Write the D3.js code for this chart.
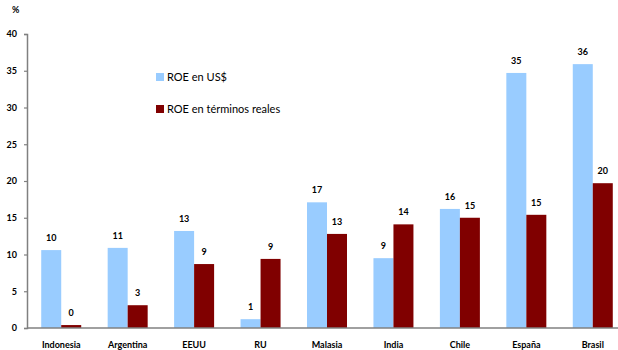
<!DOCTYPE html>
<html><head><meta charset="utf-8">
<script src="https://cdn.jsdelivr.net/npm/d3@7"></script>
<style>body{margin:0;background:#fff}svg{display:block}</style>
</head><body>
<svg id="c" width="618" height="350"></svg>
<script>
const categories = ["Indonesia","Argentina","EEUU","RU","Malasia","India","Chile","España","Brasil"];
const roeUSD = [10.6, 10.9, 13.2, 1.2, 17.1, 9.5, 16.2, 34.7, 35.9];
const roeReal = [0.4, 3.1, 8.7, 9.4, 12.8, 14.1, 15.0, 15.4, 19.7];
const labelsUSD = ["10","11","13","1","17","9","16","35","36"];
const labelsReal = ["0","3","9","9","13","14","15","15","20"];
const yTicks = [0,5,10,15,20,25,30,35,40];
const seriesNames = ["ROE en US$","ROE en términos reales"];
const colors = ["#99ccff","#800000"];

const svg = d3.select("#c");
const font = "Lato, 'DejaVu Sans', sans-serif";
const W = 618;
const x = d3.scaleBand().domain(categories).range([28, 626]).padding(0);
const y = d3.scaleLinear().domain([0,40]).range([328, 34]);
const barW = 20;

const yAxis = svg.append("g").attr("transform","translate(27,0)")
  .call(d3.axisLeft(y).tickValues(yTicks).tickSize(3).tickFormat(d3.format("d")));
yAxis.select(".domain").attr("stroke","#808080").attr("stroke-width",1.5);
yAxis.selectAll(".tick line").attr("stroke","#808080").attr("stroke-width",1.2);
yAxis.selectAll(".tick text").attr("font-family",font).attr("font-weight","bold")
  .attr("font-size",9).attr("fill","#000").attr("x",-10);

svg.append("text").attr("x",12).attr("y",13).text("%")
  .attr("font-family",font).attr("font-size",9).attr("font-weight","bold");

const series = [roeUSD, roeReal];
const labels = [labelsUSD, labelsReal];
series.forEach((vals, si) => {
  const g = svg.append("g");
  g.selectAll("rect").data(vals).join("rect")
    .attr("x",(d,i)=>x(categories[i]) + x.bandwidth()/2 - barW + si*barW)
    .attr("width",barW)
    .attr("y",d=>y(d))
    .attr("height",d=>y(0)-y(d))
    .attr("fill",colors[si]);
  g.selectAll("text").data(vals).join("text")
    .attr("x",(d,i)=>x(categories[i]) + x.bandwidth()/2 - barW/2 + si*barW)
    .attr("y",d=>y(d)-9)
    .attr("text-anchor","middle")
    .attr("font-family",font).attr("font-weight","bold").attr("font-size",9)
    .text((d,i)=>labels[si][i]);
});

const xAxis = svg.append("g").attr("transform","translate(0,328)")
  .call(d3.axisBottom(x).tickSize(0).tickPadding(14));
xAxis.select(".domain").attr("stroke","#808080").attr("stroke-width",1.5)
  .attr("d","M27,0H" + W);
xAxis.selectAll(".tick text").attr("font-family",font).attr("font-weight","bold")
  .attr("font-size",9).attr("fill","#000");

const lg = svg.append("g");
seriesNames.forEach((n,i)=>{
  lg.append("rect").attr("x",156).attr("y",73+i*32).attr("width",8).attr("height",8).attr("fill",colors[i]);
  lg.append("text").attr("x",167).attr("y",81+i*32).text(n)
    .attr("font-family",font).attr("font-size",11).attr("fill","#000");
});
</script>
</body></html>
